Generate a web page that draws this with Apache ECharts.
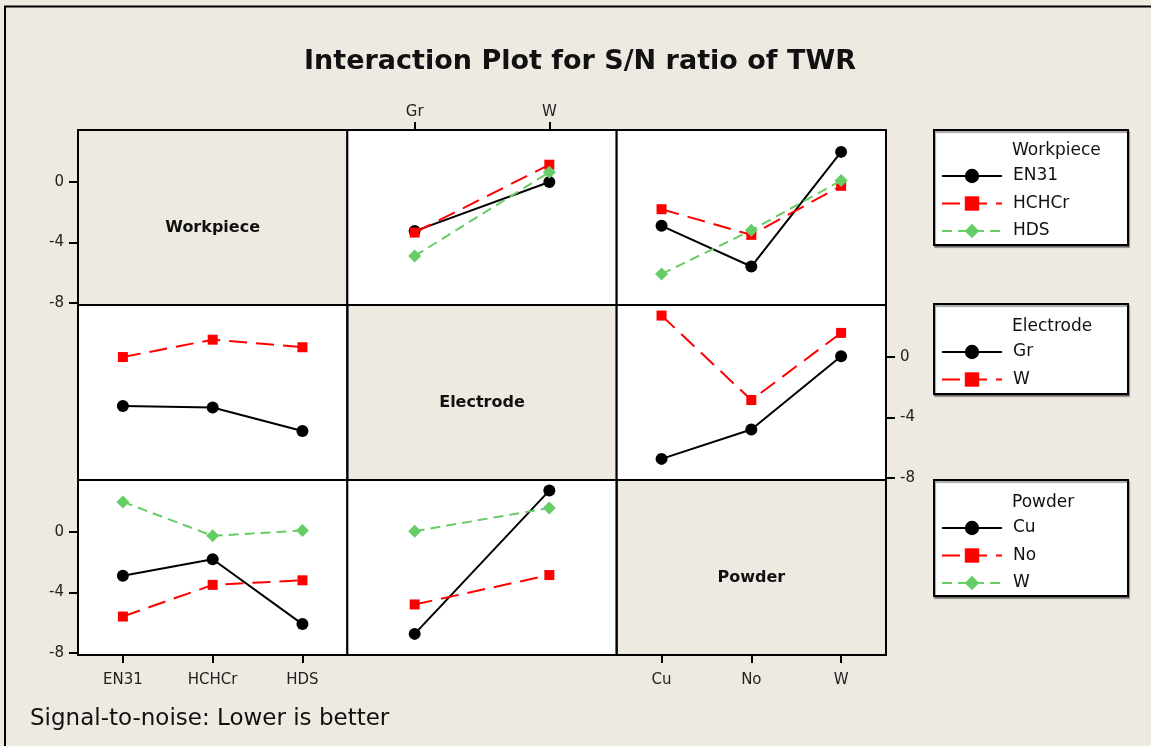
<!DOCTYPE html>
<html>
<head>
<meta charset="utf-8">
<script src="https://cdn.jsdelivr.net/npm/echarts@6/dist/echarts.min.js"></script>
<style>
  html, body { margin: 0; padding: 0; background: #EEEAE1; }
  #chart { width: 1151px; height: 746px; }
</style>
</head>
<body>
<div id="chart"></div>
<script>
// Factors and their levels
const factorNames = ['Workpiece', 'Electrode', 'Powder'];
const workpieceLevels = ['EN31', 'HCHCr', 'HDS'];
const electrodeLevels = ['Gr', 'W'];
const powderLevels = ['Cu', 'No', 'W'];
const yTicks = [-8, -4, 0];

// Mean S/N ratio (dB) for each pair of factor levels
// rows: workpiece level, columns: electrode level
const workpieceByElectrode = [
  [-3.25, 0.0],
  [-3.35, 1.15],
  [-4.9, 0.65]
];
// rows: workpiece level, columns: powder level
const workpieceByPowder = [
  [-2.9, -5.6, 2.0],
  [-1.8, -3.5, -0.25],
  [-6.1, -3.2, 0.1]
];
// rows: electrode level, columns: powder level
const electrodeByPowder = [
  [-6.75, -4.8, 0.05],
  [2.75, -2.85, 1.6]
];

const levels = [workpieceLevels, electrodeLevels, powderLevels];
const pairTables = { '0-1': workpieceByElectrode, '0-2': workpieceByPowder, '1-2': electrodeByPowder };
function cellMean(rf, i, cf, j) {
  const t = pairTables[rf + '-' + cf];
  if (t) return t[i][j];
  return pairTables[cf + '-' + rf][j][i];
}

// line / marker look for the 1st, 2nd, 3rd level of the traced factor
const levelStyles = [
  { color: '#000000', symbol: 'circle', size: 12, dash: 'solid' },
  { color: '#FF0000', symbol: 'rect', size: 10, dash: [18, 9] },
  { color: '#66CC66', symbol: 'diamond', size: 13, dash: [10, 6] }
];

const FONT = 'DejaVu Sans';
const BG = '#EEEAE1';
const gridLeft = 78, gridTop = 130, cellW = 269.33, cellH = 175;
const yMin = -8.15, yMax = 3.45;

const grids = [], xAxes = [], yAxes = [], series = [], graphics = [];

for (let r = 0; r < 3; r++) {
  for (let c = 0; c < 3; c++) {
    const idx = r * 3 + c;
    const diag = r === c;
    grids.push({
      left: gridLeft + c * cellW, top: gridTop + r * cellH,
      width: cellW, height: cellH,
      show: true, backgroundColor: diag ? 'transparent' : '#FFFFFF',
      borderColor: '#000', borderWidth: 2, z: 1
    });
    // x labels: Workpiece and Powder below the bottom row, Electrode above the top row
    const showX = (c === 1 && r === 0) || (c !== 1 && r === 2);
    const onTop = c === 1;
    xAxes.push({
      gridIndex: idx, type: 'category', data: levels[c], boundaryGap: true,
      position: onTop ? 'top' : 'bottom',
      axisLine: { show: false, onZero: false },
      axisTick: { show: showX, alignWithLabel: true, length: 8, lineStyle: { color: '#000', width: 2 } },
      axisLabel: { show: showX, margin: onTop ? 10 : 18, color: '#222', fontFamily: FONT, fontSize: 15 },
      splitLine: { show: false }
    });
    // y labels: left for rows 1 and 3, right for row 2
    const showY = (r !== 1 && c === 0) || (r === 1 && c === 2);
    yAxes.push({
      gridIndex: idx, type: 'value', min: yMin, max: yMax,
      position: (r === 1) ? 'right' : 'left',
      axisLine: { show: false, onZero: false },
      axisTick: { show: showY, customValues: yTicks, length: 9, lineStyle: { color: '#000', width: 2 } },
      axisLabel: { show: showY, customValues: yTicks, margin: 14, color: '#222', fontFamily: FONT, fontSize: 15 },
      splitLine: { show: false }
    });
    if (diag) {
      graphics.push({
        type: 'text', z: 5,
        x: gridLeft + c * cellW + cellW / 2, y: gridTop + r * cellH + cellH / 2 + 10,
        style: { text: factorNames[r], fill: '#111', font: 'bold 16px "' + FONT + '"', align: 'center', verticalAlign: 'middle' }
      });
      continue;
    }
    levels[r].forEach((lv, i) => {
      const st = levelStyles[i];
      series.push({
        type: 'line', name: factorNames[r] + ':' + lv,
        xAxisIndex: idx, yAxisIndex: idx,
        data: levels[c].map((_, j) => cellMean(r, i, c, j)),
        symbol: st.symbol, symbolSize: st.size, showSymbol: true,
        lineStyle: { color: st.color, width: 2, type: st.dash },
        itemStyle: { color: st.color },
        emphasis: { disabled: true }, animation: false, z: 3 + i
      });
    });
  }
}

// legend boxes with a heading per factor
const legendBoxes = [
  { top: 130, h: 115, first: 176 },
  { top: 304, h: 90, first: 352 },
  { top: 480, h: 116, first: 528 }
];
const legends = [];
legendBoxes.forEach((b, f) => {
  graphics.push({
    type: 'rect', z: 0,
    shape: { x: 934, y: b.top, width: 194, height: b.h },
    style: { fill: '#FFFFFF', stroke: '#000', lineWidth: 2, shadowColor: 'rgba(0,0,0,0.35)', shadowOffsetX: 1, shadowOffsetY: 2, shadowBlur: 1 }
  });
  graphics.push({
    type: 'text', z: 5, x: 1012, y: b.first - 25,
    style: { text: factorNames[f], fill: '#111', font: '17px "' + FONT + '"', verticalAlign: 'middle' }
  });
  legends.push({
    orient: 'vertical', left: 941, top: b.first - 9, padding: 0,
    itemWidth: 60, itemHeight: 18, itemGap: 9.5, selectedMode: false,
    data: levels[f].map(lv => factorNames[f] + ':' + lv),
    formatter: name => name.split(':')[1],
    textStyle: { fontFamily: FONT, fontSize: 17, color: '#111', lineHeight: 18, padding: [0, 0, 0, 6] }
  });
});

// frame around the whole figure
graphics.push({
  type: 'rect', z: 0,
  shape: { x: 5, y: 6.5, width: 1300, height: 900 },
  style: { fill: 'none', stroke: '#000', lineWidth: 2 }
});

const chart = echarts.init(document.getElementById('chart'));
chart.setOption({
  backgroundColor: BG,
  animation: false,
  title: [
    { text: 'Interaction Plot for S/N ratio of TWR', left: 580, top: 48, textAlign: 'center', padding: 0,
      textStyle: { fontFamily: FONT, fontWeight: 'bold', fontSize: 27, color: '#111' } },
    { text: 'Signal-to-noise: Lower is better', left: 30, top: 708, padding: 0,
      textStyle: { fontFamily: FONT, fontWeight: 'normal', fontSize: 23, color: '#111' } }
  ],
  grid: grids,
  xAxis: xAxes,
  yAxis: yAxes,
  legend: legends,
  series: series,
  graphic: graphics
});
</script>
</body>
</html>
